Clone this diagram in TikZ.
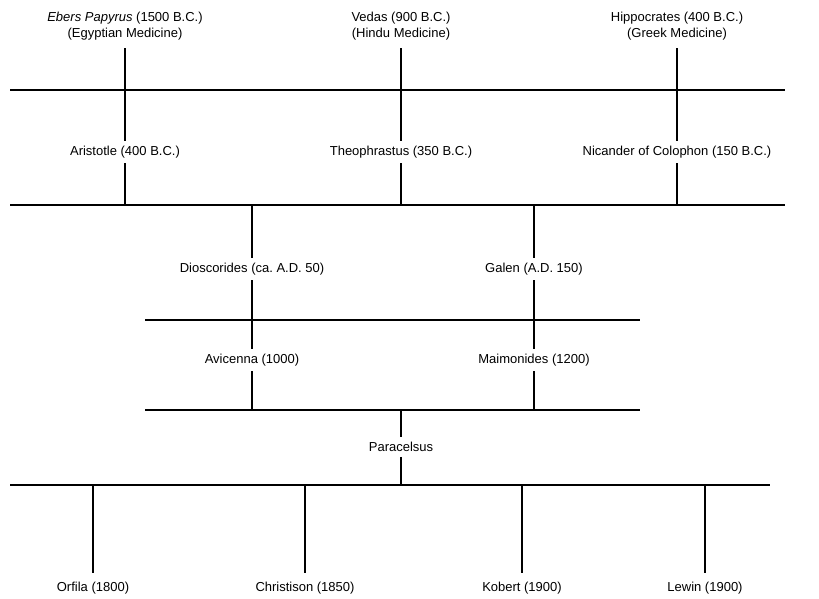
\documentclass[tikz,border=0pt]{standalone}
\usepackage{fontspec}
\setmainfont{Liberation Sans}
\usetikzlibrary{positioning}

\begin{document}
\begin{tikzpicture}[x=1pt, y=-1pt,
  person/.style={font=\fontsize{13}{16}\selectfont, inner xsep=1pt, inner ysep=5pt, align=center},
  bar/.style={line width=1.1pt},
  link/.style={line width=1.1pt}]
  \useasboundingbox (0,0) rectangle (819,599);

  % Horizontal bars
  \coordinate (bar1l) at (10,90);   \coordinate (bar1r) at (785,90);
  \coordinate (bar2l) at (10,205);  \coordinate (bar2r) at (785,205);
  \coordinate (bar3l) at (145,320); \coordinate (bar3r) at (640,320);
  \coordinate (bar4l) at (145,410); \coordinate (bar4r) at (640,410);
  \coordinate (bar5l) at (10,485);  \coordinate (bar5r) at (770,485);
  \draw[bar] (bar1l) -- (bar1r);
  \draw[bar] (bar2l) -- (bar2r);
  \draw[bar] (bar3l) -- (bar3r);
  \draw[bar] (bar4l) -- (bar4r);
  \draw[bar] (bar5l) -- (bar5r);

  % Ancient sources
  \node[person, inner ysep=8pt] (ebers) at (125,26) {\textit{Ebers Papyrus} (1500 B.C.)\\(Egyptian Medicine)};
  \node[person, inner ysep=8pt] (vedas) at (401,26) {Vedas (900 B.C.)\\(Hindu Medicine)};
  \node[person, inner ysep=8pt] (hippocrates) at (677,26) {Hippocrates (400 B.C.)\\(Greek Medicine)};

  % Greek writers
  \node[person] (aristotle) at (125,152) {Aristotle (400 B.C.)};
  \node[person] (theophrastus) at (401,152) {Theophrastus (350 B.C.)};
  \node[person] (nicander) at (677,152) {Nicander of Colophon (150 B.C.)};

  \draw[link] (ebers) -- (aristotle);
  \draw[link] (vedas) -- (theophrastus);
  \draw[link] (hippocrates) -- (nicander);
  \draw[link] (aristotle) -- (aristotle |- bar2l);
  \draw[link] (theophrastus) -- (theophrastus |- bar2l);
  \draw[link] (nicander) -- (nicander |- bar2l);

  % Roman and medieval
  \node[person] (dioscorides) at (252,269) {Dioscorides (ca.\ A.D. 50)};
  \node[person] (galen) at (534,269) {Galen (A.D. 150)};
  \node[person] (avicenna) at (252,360) {Avicenna (1000)};
  \node[person] (maimonides) at (534,360) {Maimonides (1200)};

  \draw[link] (dioscorides |- bar2l) -- (dioscorides);
  \draw[link] (galen |- bar2l) -- (galen);
  \draw[link] (dioscorides) -- (avicenna);
  \draw[link] (galen) -- (maimonides);
  \draw[link] (avicenna) -- (avicenna |- bar4l);
  \draw[link] (maimonides) -- (maimonides |- bar4l);

  % Renaissance
  \node[person] (paracelsus) at (401,447) {Paracelsus};
  \draw[link] (paracelsus |- bar4l) -- (paracelsus);
  \draw[link] (paracelsus) -- (paracelsus |- bar5l);

  % Modern toxicologists
  \node[person, inner ysep=9pt] (orfila) at (93,588) {Orfila (1800)};
  \node[person, inner ysep=9pt] (christison) at (305,588) {Christison (1850)};
  \node[person, inner ysep=9pt] (kobert) at (522,588) {Kobert (1900)};
  \node[person, inner ysep=9pt] (lewin) at (705,588) {Lewin (1900)};

  \foreach \who in {orfila, christison, kobert, lewin}
    \draw[link] (\who |- bar5l) -- (\who);
\end{tikzpicture}
\end{document}
